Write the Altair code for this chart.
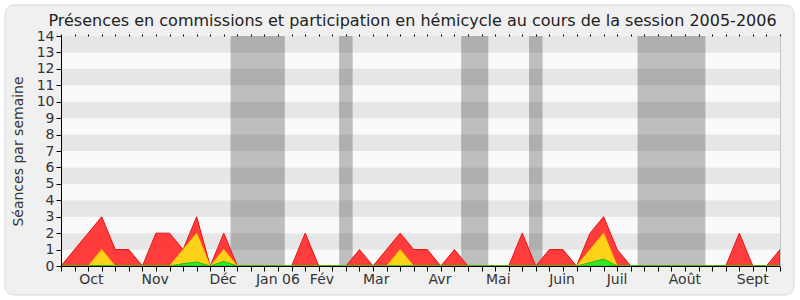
import altair as alt
import pandas as pd

weeks = list(range(54))
red = [0, 1, 2, 3, 1, 1, 0, 2, 2, 1, 3, 0, 2, 0,
       0, 0, 0, 0, 2, 0, 0, 0, 1, 0, 1, 2, 1, 1,
       0, 1, 0, 0, 0, 0, 2, 0, 1, 1, 0, 2, 3, 1,
       0, 0, 0, 0, 0, 0, 0, 0, 2, 0, 0, 1]
yellow = [0, 0, 0, 1, 0, 0, 0, 0, 0, 1, 2, 0, 1, 0,
          0, 0, 0, 0, 0, 0, 0, 0, 0, 0, 0, 1, 0, 0,
          0, 0, 0, 0, 0, 0, 0, 0, 0, 0, 0, 1, 2, 0,
          0, 0, 0, 0, 0, 0, 0, 0, 0, 0, 0, 0]
green = [0, 0, 0, 0.03, 0, 0, 0, 0, 0, 0.14, 0.24, 0, 0.28, 0,
         0, 0, 0, 0, 0, 0, 0, 0, 0, 0, 0, 0, 0, 0,
         0, 0, 0, 0, 0, 0, 0, 0, 0, 0, 0, 0.2, 0.42, 0,
         0, 0, 0, 0, 0, 0, 0, 0, 0, 0, 0, 0]

month_labels = ["Oct", "Nov", "Déc", "Jan 06", "Fév", "Mar", "Avr", "Mai",
                "Juin", "Juil", "Août", "Sept"]
month_pos = [2.2, 6.9, 11.9, 15.95, 19.2, 23.2, 27.9, 32.2, 36.9, 40.95, 45.95, 50.95]

holiday_start = [12.5, 20.5, 29.5, 34.5, 42.5]
holiday_end = [16.5, 21.5, 31.5, 35.5, 47.5]

stripe_lo = list(range(14))
stripe_hi = [v + 1 for v in stripe_lo]
stripe_col = ["#fafafa" if v % 2 == 0 else "#e6e6e6" for v in stripe_lo]

df = pd.DataFrame({"week": weeks, "red": red, "yellow": yellow, "green": green})
hol = pd.DataFrame({"start": holiday_start, "end": holiday_end})
stripes = pd.DataFrame({"lo": stripe_lo, "hi": stripe_hi, "col": stripe_col})

FONT = "DejaVu Sans"
W, H = 719, 230
xscale = alt.Scale(domain=[0, 53], nice=False, zero=False)
yscale = alt.Scale(domain=[0, 14], nice=False, zero=False)

# label lookup for bottom axis
pos_str = "[" + ",".join(str(p) for p in month_pos) + "]"
lab_str = "[" + ",".join("'" + m + "'" for m in month_labels) + "]"
label_expr = f"indexof({pos_str}, datum.value) >= 0 ? {lab_str}[indexof({pos_str}, datum.value)] : ''"
is_label = f"indexof({pos_str}, datum.value) >= 0"

panel = alt.Chart(alt.Data(values=[{}])).mark_rect(
    fill="#f0f0f0", stroke="#d9d9d9", strokeWidth=1, cornerRadius=9, clip=False
).encode(
    x=alt.value(-56), x2=alt.value(733), y=alt.value(-31), y2=alt.value(259)
)

stripe_layer = alt.Chart(stripes).mark_rect().encode(
    x=alt.datum(0, scale=xscale, type="quantitative",
                axis=alt.Axis(orient="top", values=weeks, labels=False, domain=False,
                              ticks=True, tickSize=2, tickColor="black", tickWidth=1,
                              grid=False, title=None, zindex=1)),
    x2=alt.datum(53),
    y=alt.Y("lo:Q", scale=yscale,
            axis=alt.Axis(orient="right", labels=False, ticks=False, domain=True,
                          domainColor="#c4c4c4", grid=False, title=None, zindex=1)),
    y2="hi:Q",
    color=alt.Color("col:N", scale=None),
)

hol_layer = alt.Chart(hol).mark_rect(color="black", opacity=0.24).encode(
    x=alt.X("start:Q", scale=xscale, axis=None),
    x2="end:Q",
    y=alt.datum(0, scale=yscale, type="quantitative", axis=None),
    y2=alt.datum(14),
)

xaxis = alt.Axis(
    orient="bottom", values=sorted(weeks + month_pos), labelExpr=label_expr,
    tickSize=5, tickColor="black", domainColor="black", domainWidth=1,
    tickOpacity=alt.condition(is_label, alt.value(0), alt.value(1)),
    labelFont=FONT, labelFontSize=14, labelColor="#333333", labelPadding=1,
    labelOverlap=False, labelFlush=False, labelBound=False, grid=False, title=None,
    zindex=1,
)
yaxis = alt.Axis(
    orient="left", values=list(range(15)), tickSize=5, tickColor="black",
    domainColor="black", labelFont=FONT, labelFontSize=14, labelColor="#333333",
    labelPadding=2, grid=False, title="Séances par semaine", titleFont=FONT,
    titleFontSize=14, titleFontWeight="normal", titleColor="#333333", titlePadding=11,
    zindex=1,
)

red_layer = alt.Chart(df).mark_area(
    color="#ff3333", fillOpacity=0.95, stroke="#ee1111", strokeWidth=1, interpolate="linear"
).encode(
    x=alt.X("week:Q", scale=xscale, axis=xaxis),
    y=alt.Y("red:Q", scale=yscale, axis=yaxis),
)
yellow_layer = alt.Chart(df).mark_area(
    color="#ffd21a", fillOpacity=1, stroke="#ffbb00", strokeWidth=1, interpolate="linear"
).encode(
    x=alt.X("week:Q", scale=xscale, axis=None),
    y=alt.Y("yellow:Q", scale=yscale, axis=None),
)
green_layer = alt.Chart(df).mark_area(
    color="#33e82a", fillOpacity=1, stroke="#22bb11", strokeWidth=1, interpolate="linear"
).encode(
    x=alt.X("week:Q", scale=xscale, axis=None),
    y=alt.Y("green:Q", scale=yscale, axis=None),
)

chart = alt.layer(
    panel, stripe_layer, hol_layer, red_layer, yellow_layer, green_layer
).properties(
    width=W, height=H,
    title=alt.TitleParams(
        "Présences en commissions et participation en hémicycle au cours de la session 2005-2006",
        font=FONT, fontSize=16, fontWeight="normal", color="#222222",
        anchor="middle", offset=0, dx=-8, dy=24,
    ),
    autosize=alt.AutoSizeParams(type="none"),
    padding={"left": 61, "top": 36, "right": 20, "bottom": 34},
    background="white",
).configure_view(stroke=None, fill=None)

chart.save("out.html", embed_options={"renderer": "svg", "actions": False})
